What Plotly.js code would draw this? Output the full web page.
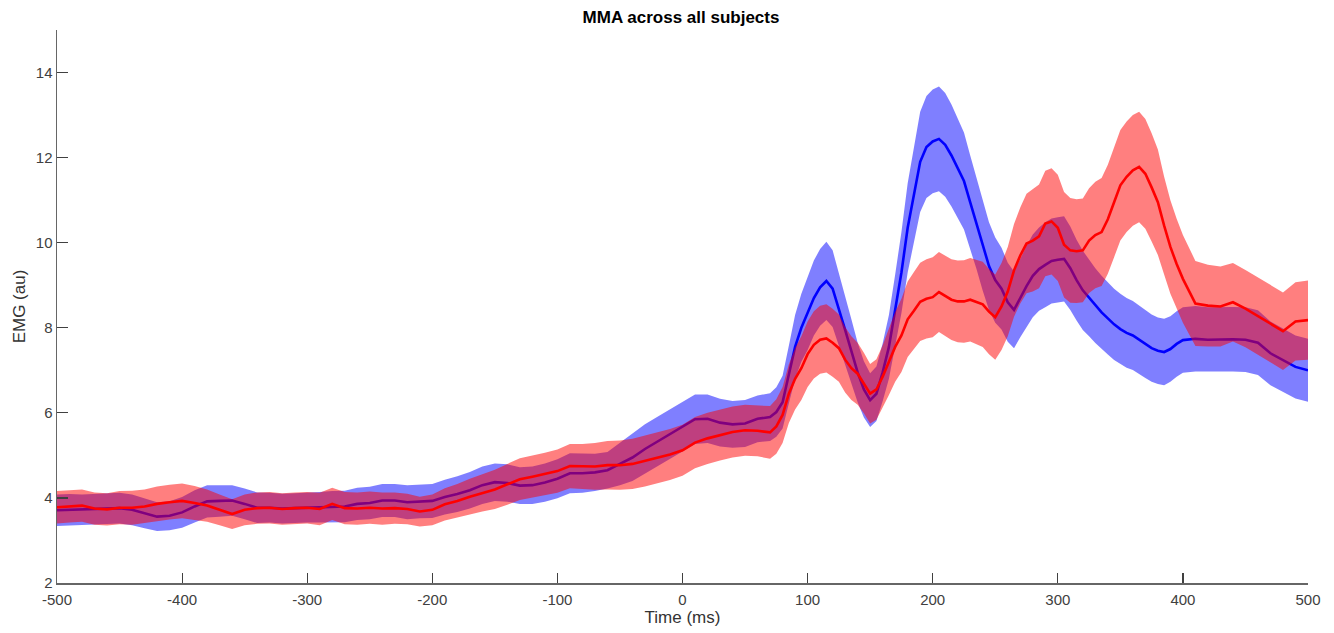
<!DOCTYPE html>
<html>
<head>
<meta charset="utf-8">
<script src="https://cdn.plot.ly/plotly-3.0.1.min.js"></script>
<style>
  html, body { margin: 0; padding: 0; background: #fff; }
  #chart { width: 1334px; height: 633px; }
</style>
</head>
<body>
<div id="chart"></div>
<script>
// Time axis (ms)
const timeA = [-500,-490,-480,-470,-460,-450,-440,-430,-420,-410,
  -400,-390,-380,-370,-360,-350,-340,-330,-320,-310,
  -300,-290,-280,-270,-260,-250,-240,-230,-220,-210,
  -200,-190,-180,-170,-160,-150,-140,-130,-120,-110,
  -100,-90,-80,-70,-60,-50,-40,-30,-20,-10,
  0,10,20,30,40,50,60,70];
const timeB = [75,80,85,90,95,100,105,110,115,120,
  125,130,135,140,145,150,155,160,165,170,
  175,180,185,190,195,200,205,210,215,220,
  225,230,235,240,245,250,255,260,265,270,
  275,280,285,290,295,300,305,310,315,320,
  325,330,335,340,345,350,355,360,365,370,
  375,380,385,390,395,400];
const timeC = [410,420,430,440,450,460,470,480,490,500];

// Blue condition: mean and half-width of shaded band
const blueMeanA = [3.71,3.72,3.72,3.73,3.75,3.76,3.72,3.64,3.56,3.58,
  3.66,3.80,3.92,3.93,3.94,3.86,3.77,3.77,3.75,3.76,
  3.77,3.78,3.79,3.80,3.86,3.88,3.94,3.94,3.90,3.92,
  3.93,4.02,4.09,4.18,4.30,4.37,4.35,4.29,4.30,4.36,
  4.45,4.58,4.58,4.60,4.65,4.80,4.95,5.15,5.33,5.50,
  5.67,5.85,5.86,5.77,5.73,5.75,5.86,5.90];
const blueMeanB = [6.02,6.25,6.90,7.55,8.00,8.33,8.70,8.95,9.10,8.92,
  8.45,7.95,7.45,6.95,6.55,6.30,6.45,6.95,7.55,8.40,
  9.30,10.35,11.15,11.90,12.25,12.38,12.44,12.30,12.05,11.75,
  11.45,10.95,10.45,9.92,9.45,9.12,8.92,8.60,8.42,8.70,
  8.98,9.22,9.38,9.48,9.57,9.60,9.62,9.40,9.12,8.88,
  8.70,8.52,8.36,8.22,8.08,7.97,7.88,7.82,7.72,7.62,
  7.52,7.46,7.43,7.50,7.62,7.71];
const blueMeanC = [7.74,7.72,7.73,7.73,7.72,7.65,7.40,7.24,7.08,7.00];

const blueHalfA = [0.37,0.37,0.36,0.36,0.36,0.36,0.36,0.35,0.34,0.34,
  0.36,0.38,0.38,0.37,0.36,0.36,0.36,0.35,0.35,0.35,
  0.35,0.36,0.37,0.37,0.38,0.38,0.39,0.39,0.40,0.40,
  0.40,0.41,0.42,0.43,0.44,0.44,0.44,0.43,0.44,0.45,
  0.46,0.47,0.46,0.44,0.43,0.50,0.55,0.58,0.58,0.58,
  0.58,0.58,0.57,0.56,0.55,0.55,0.55,0.56];
const blueHalfB = [0.58,0.62,0.68,0.75,0.80,0.85,0.88,0.90,0.92,0.90,
  0.85,0.80,0.75,0.70,0.66,0.63,0.64,0.68,0.75,0.85,
  0.95,1.05,1.12,1.18,1.20,1.22,1.23,1.22,1.20,1.17,
  1.14,1.10,1.07,1.05,1.03,1.00,0.96,0.93,0.90,0.92,
  0.95,0.97,0.98,1.00,1.00,1.00,1.00,0.98,0.95,0.93,
  0.90,0.88,0.86,0.85,0.84,0.83,0.82,0.81,0.80,0.80,
  0.79,0.78,0.78,0.77,0.77,0.77];
const blueHalfC = [0.77,0.76,0.76,0.76,0.76,0.76,0.75,0.75,0.74,0.74];

// Red condition: mean and half-width of shaded band
const redMeanA = [3.78,3.80,3.82,3.75,3.73,3.77,3.77,3.80,3.86,3.90,
  3.93,3.88,3.82,3.72,3.62,3.72,3.76,3.77,3.74,3.76,
  3.77,3.74,3.86,3.76,3.75,3.77,3.75,3.76,3.74,3.68,
  3.72,3.85,3.93,4.03,4.12,4.20,4.32,4.44,4.50,4.56,
  4.63,4.75,4.74,4.74,4.77,4.77,4.80,4.87,4.94,5.02,
  5.12,5.30,5.40,5.48,5.55,5.59,5.58,5.54];
const redMeanB = [5.68,5.95,6.45,6.80,7.05,7.38,7.60,7.72,7.75,7.65,
  7.52,7.25,7.05,6.92,6.70,6.45,6.55,6.85,7.20,7.55,
  7.82,8.20,8.40,8.61,8.68,8.72,8.84,8.75,8.66,8.62,
  8.62,8.66,8.60,8.55,8.38,8.25,8.50,8.85,9.35,9.70,
  9.98,10.05,10.15,10.45,10.50,10.35,9.95,9.82,9.80,9.82,
  10.05,10.18,10.25,10.55,10.95,11.35,11.55,11.70,11.78,11.62,
  11.30,10.95,10.40,9.90,9.50,9.15];
const redMeanC = [8.57,8.52,8.50,8.60,8.45,8.28,8.10,7.92,8.15,8.18];

const redHalfA = [0.38,0.38,0.38,0.38,0.38,0.39,0.40,0.40,0.41,0.41,
  0.41,0.40,0.38,0.36,0.35,0.36,0.37,0.37,0.37,0.37,
  0.37,0.38,0.38,0.38,0.38,0.38,0.38,0.37,0.36,0.35,
  0.36,0.38,0.40,0.42,0.44,0.46,0.48,0.49,0.50,0.50,
  0.51,0.52,0.53,0.55,0.57,0.58,0.59,0.60,0.60,0.60,
  0.60,0.60,0.60,0.60,0.60,0.60,0.60,0.62];
const redHalfB = [0.64,0.66,0.69,0.72,0.75,0.77,0.79,0.80,0.80,0.80,
  0.79,0.77,0.75,0.73,0.71,0.70,0.71,0.74,0.78,0.82,
  0.86,0.89,0.91,0.92,0.93,0.94,0.94,0.94,0.95,0.96,
  0.97,0.98,0.99,1.00,1.00,1.00,1.02,1.05,1.09,1.13,
  1.17,1.20,1.22,1.24,1.25,1.25,1.24,1.23,1.22,1.22,
  1.23,1.25,1.27,1.28,1.29,1.30,1.30,1.30,1.30,1.29,
  1.27,1.24,1.15,1.10,1.06,1.03];
const redHalfC = [1.00,0.96,0.94,0.92,0.91,0.91,0.91,0.91,0.92,0.93];

const xTicks = [-500,-400,-300,-200,-100,0,100,200,300,400,500];
const yTicks = [2,4,6,8,10,12,14];

// ---- assemble ----
const t = timeA.concat(timeB, timeC);
const bMean = blueMeanA.concat(blueMeanB, blueMeanC);
const bHalf = blueHalfA.concat(blueHalfB, blueHalfC);
const rMean = redMeanA.concat(redMeanB, redMeanC);
const rHalf = redHalfA.concat(redHalfB, redHalfC);

function band(mean, half) {
  const up = mean.map((m, i) => m + half[i]);
  const lo = mean.map((m, i) => m - half[i]);
  return {
    x: t.concat(t.slice().reverse()),
    y: up.concat(lo.slice().reverse())
  };
}
const bB = band(bMean, bHalf);
const rB = band(rMean, rHalf);

const FONT = '"Liberation Sans", Arial, Helvetica, sans-serif';

const traces = [
  { x: bB.x, y: bB.y, type: 'scatter', mode: 'lines', fill: 'toself',
    fillcolor: 'rgba(0,0,255,0.5)', line: { width: 0, color: 'rgba(0,0,0,0)' },
    hoverinfo: 'skip', showlegend: false },
  { x: t, y: bMean, type: 'scatter', mode: 'lines',
    line: { color: '#0000ff', width: 2.6 }, showlegend: false },
  { x: rB.x, y: rB.y, type: 'scatter', mode: 'lines', fill: 'toself',
    fillcolor: 'rgba(255,0,0,0.5)', line: { width: 0, color: 'rgba(0,0,0,0)' },
    hoverinfo: 'skip', showlegend: false },
  { x: t, y: rMean, type: 'scatter', mode: 'lines',
    line: { color: '#ff0000', width: 2.6 }, showlegend: false }
];

const layout = {
  width: 1334, height: 633,
  paper_bgcolor: '#ffffff', plot_bgcolor: '#ffffff',
  margin: { l: 57, r: 26, t: 30, b: 50, pad: 0 },
  font: { family: FONT, color: '#404040', size: 15 },
  title: { text: '<b>MMA across all subjects</b>', x: 0.5105, xanchor: 'center',
           y: 0.973, yanchor: 'middle', font: { family: FONT, size: 17, color: '#000000' } },
  xaxis: {
    range: [-500, 500], tickvals: xTicks, ticktext: xTicks.map(String),
    ticks: 'inside', ticklen: 10, tickwidth: 1.2, tickcolor: '#404040',
    showline: true, linecolor: '#666666', linewidth: 1.5,
    showgrid: false, zeroline: false, mirror: false,
    ticklabelstandoff: 2,
    tickfont: { family: FONT, size: 15, color: '#404040' },
    title: { text: 'Time (ms)', standoff: 4, font: { family: FONT, size: 17, color: '#333333' } }
  },
  yaxis: {
    range: [2, 15], tickvals: yTicks, ticktext: yTicks.map(String),
    ticks: 'inside', ticklen: 11, tickwidth: 1.2, tickcolor: '#404040',
    showline: true, linecolor: '#666666', linewidth: 1.5,
    showgrid: false, zeroline: false, mirror: false,
    tickfont: { family: FONT, size: 15, color: '#404040' },
    title: { text: 'EMG (au)', standoff: 6, font: { family: FONT, size: 17, color: '#333333' } }
  },
  showlegend: false
};

Plotly.newPlot('chart', traces, layout, { staticPlot: true, displayModeBar: false });
</script>
</body>
</html>
